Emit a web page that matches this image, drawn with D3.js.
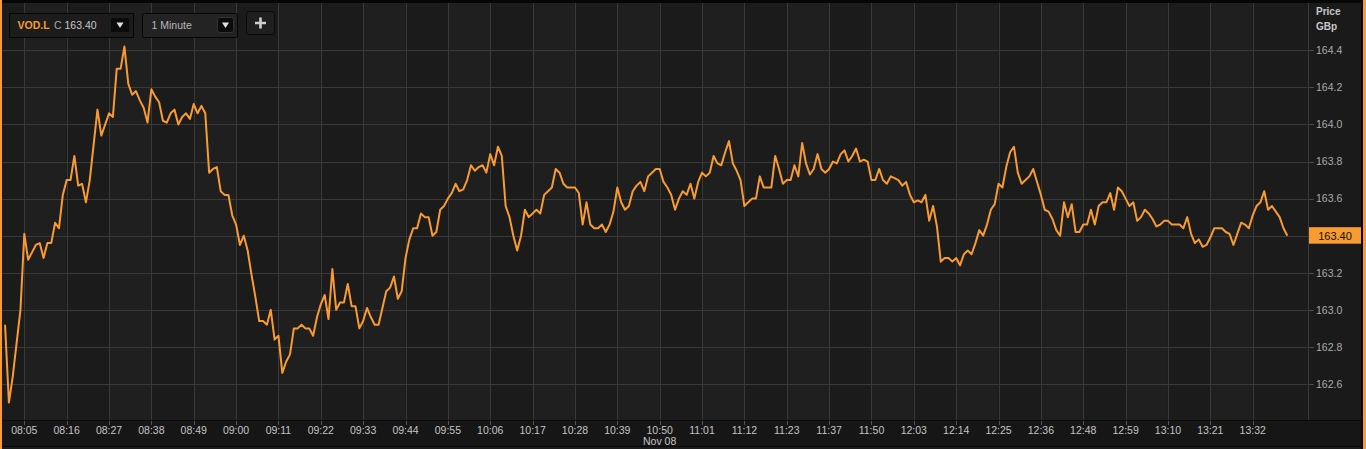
<!DOCTYPE html>
<html>
<head>
<meta charset="utf-8">
<script src="https://cdn.jsdelivr.net/npm/d3@7"></script>
<style>
  html,body{margin:0;padding:0;background:#1c1c1c;}
  svg{display:block;}
  text{font-family:"Liberation Sans",Arial,sans-serif;}
</style>
</head>
<body>
<svg id="chart" width="1366" height="449"></svg>
<script>
// ---------- data ----------
const symbol = "VOD.L";
const interval = "1 Minute";
const dateLabel = "Nov 08";
const axisTitle = ["Price", "GBp"];
// one value per 1-minute bar, 08:00 .. 13:40 (some minutes missing)
const prices = [
162.92,162.50,162.64,162.82,163.00,163.41,163.27,163.31,163.35,163.36,
163.28,163.36,163.36,163.47,163.44,163.62,163.70,163.70,163.83,163.67,
163.68,163.58,163.70,163.89,164.08,163.94,164.00,164.06,164.04,164.30,
164.30,164.42,164.22,164.16,164.18,164.13,164.09,164.01,164.19,164.15,
164.12,164.02,164.01,164.06,164.08,164.00,164.04,164.06,164.03,164.11,
164.06,164.10,164.06,163.74,163.76,163.77,163.64,163.62,163.62,163.51,
163.46,163.35,163.40,163.32,163.19,163.07,162.94,162.94,162.92,163.00,
162.84,162.86,162.66,162.72,162.76,162.90,162.90,162.92,162.90,162.90,
162.86,162.96,163.03,163.08,162.95,163.22,163.00,163.04,163.04,163.14,
163.02,163.02,162.90,162.94,163.01,162.96,162.92,162.92,163.01,163.10,
163.12,163.18,163.06,163.10,163.28,163.38,163.44,163.44,163.52,163.50,
163.50,163.40,163.42,163.54,163.56,163.60,163.63,163.68,163.64,163.65,
163.70,163.78,163.75,163.77,163.78,163.74,163.84,163.78,163.88,163.83,
163.56,163.50,163.40,163.32,163.40,163.54,163.50,163.52,163.54,163.52,
163.62,163.64,163.66,163.76,163.74,163.68,163.66,163.66,163.66,163.63,
163.46,163.58,163.46,163.44,163.44,163.46,163.42,163.46,163.53,163.66,
163.58,163.54,163.56,163.64,163.67,163.69,163.64,163.72,163.74,163.76,
163.76,163.69,163.66,163.62,163.54,163.60,163.64,163.62,163.68,163.60,
163.69,163.74,163.72,163.74,163.83,163.79,163.78,163.85,163.91,163.79,
163.75,163.70,163.56,163.58,163.60,163.60,163.72,163.66,163.66,163.66,
163.83,163.76,163.68,163.70,163.70,163.78,163.72,163.90,163.79,163.73,
163.76,163.84,163.76,163.74,163.76,163.80,163.79,163.84,163.86,163.80,
163.83,163.87,163.80,163.81,163.80,163.70,163.70,163.76,163.70,163.68,
163.72,163.71,163.70,163.67,163.69,163.62,163.58,163.59,163.58,163.62,
163.48,163.56,163.45,163.26,163.28,163.28,163.26,163.28,163.24,163.30,
163.32,163.30,163.36,163.43,163.40,163.46,163.54,163.57,163.68,163.66,
163.77,163.85,163.88,163.74,163.68,163.70,163.72,163.76,163.69,163.62,
163.54,163.53,163.49,163.43,163.40,163.58,163.50,163.57,163.42,163.42,
163.46,163.46,163.54,163.46,163.56,163.58,163.58,163.63,163.54,163.66,
163.64,163.60,163.56,163.58,163.48,163.50,163.54,163.52,163.49,163.45,
163.46,163.48,163.48,163.46,163.46,163.46,163.44,163.50,163.41,163.36,
163.38,163.34,163.35,163.39,163.44,163.44,163.44,163.42,163.41,163.35,
163.41,163.47,163.46,163.44,163.51,163.56,163.58,163.64,163.54,163.56,
163.53,163.50,163.44,163.40
];
// x tick labels: one every 11 bars, first at bar 5
const xTickLabels = ["08:05","08:16","08:27","08:38","08:49","09:00","09:11","09:22","09:33","09:44",
  "09:55","10:06","10:17","10:28","10:39","10:50","11:01","11:12","11:23","11:37",
  "11:50","12:03","12:14","12:25","12:36","12:48","12:59","13:10","13:21","13:32"];
const xTickStart = 5, xTickStep = 11;
const dateUnderTick = "10:50";
const yTicks = [162.6,162.8,163.0,163.2,163.4,163.6,163.8,164.0,164.2,164.4];

// ---------- layout ----------
const W = 1366, H = 449;
const plotL = 2, plotR = 1308, plotT = 3, plotB = 421;
const orange = "#f89b33";

const svg = d3.select("#chart");
const x = d3.scaleLinear().domain([xTickStart, xTickStart + xTickStep*(xTickLabels.length-1)]).range([24.3, 1252.7]);
const y = d3.scaleLinear().domain([162.6, 164.4]).range([384, 50.3]);
const tickIdx = xTickLabels.map((d,i) => xTickStart + i*xTickStep);
const last = prices[prices.length-1];

// background
svg.append("rect").attr("x",0).attr("y",0).attr("width",W).attr("height",H).attr("fill","#1c1c1c");

// alternating vertical bands
const bandEdges = [plotL, ...tickIdx.map(i => x(i)), plotR];
for (let k = 0; k < bandEdges.length-1; k++) {
  svg.append("rect").attr("x",bandEdges[k]).attr("y",plotT)
    .attr("width",bandEdges[k+1]-bandEdges[k]).attr("height",plotB-plotT)
    .attr("fill", k % 2 === 0 ? "#1b1b1b" : "#1f1f1f");
}
// right axis column
svg.append("rect").attr("x",plotR).attr("y",plotT).attr("width",1363-plotR).attr("height",plotB-plotT).attr("fill","#1a1a1a");

// grid
const grid = svg.append("g").attr("stroke","#393939").attr("stroke-width",1);
yTicks.forEach(v => {
  grid.append("line").attr("x1",plotL).attr("x2",plotR)
    .attr("y1",Math.round(y(v))+0.5).attr("y2",Math.round(y(v))+0.5);
  grid.append("line").attr("x1",plotR+1).attr("x2",plotR+6)
    .attr("y1",Math.round(y(v))+0.5).attr("y2",Math.round(y(v))+0.5).attr("stroke","#4a4a4a");
});
tickIdx.forEach(i => {
  grid.append("line").attr("x1",Math.round(x(i))+0.5).attr("x2",Math.round(x(i))+0.5)
    .attr("y1",plotT).attr("y2",plotB);
});
// right axis separator
svg.append("line").attr("x1",plotR+0.5).attr("x2",plotR+0.5).attr("y1",plotT).attr("y2",plotB)
  .attr("stroke","#3a3a3a");

// price line
const line = d3.line().x((d,i) => x(i)).y(d => y(d));
svg.append("path").datum(prices).attr("d",line).attr("fill","none")
  .attr("stroke",orange).attr("stroke-width",2).attr("stroke-linejoin","round");

// y labels (the one hidden under the last-price marker is not drawn)
const yl = svg.append("g").attr("font-size","10.5px").attr("fill","#ababab");
yTicks.filter(v => Math.abs(y(v) - y(last)) > 10).forEach(v => {
  yl.append("text").attr("x",1316).attr("y",y(v)).attr("dy","0.36em").text(v.toFixed(1));
});
svg.append("text").attr("x",1316).attr("y",15).attr("font-size","10px").attr("font-weight","bold")
  .attr("fill","#c8c8c8").text(axisTitle[0]);
svg.append("text").attr("x",1316).attr("y",29.5).attr("font-size","10px").attr("font-weight","bold")
  .attr("fill","#c8c8c8").text(axisTitle[1]);

// last price marker
svg.append("rect").attr("x",plotR+1).attr("y",y(last)-8.5).attr("width",1361.5-plotR-1).attr("height",16.5).attr("fill",orange);
svg.append("text").attr("x",1335).attr("y",y(last)).attr("dy","0.36em").attr("text-anchor","middle")
  .attr("font-size","11px").attr("fill","#111").text(last.toFixed(2));

// bottom axis band
svg.append("rect").attr("x",0).attr("y",plotB).attr("width",1363).attr("height",447-plotB).attr("fill","#161616");
svg.append("line").attr("x1",0).attr("x2",1363).attr("y1",plotB-0.5).attr("y2",plotB-0.5).attr("stroke","#0a0a0a");
svg.append("line").attr("x1",0).attr("x2",1363).attr("y1",446.5).attr("y2",446.5).attr("stroke","#0a0a0a");
const xl = svg.append("g");
tickIdx.forEach((i,k) => {
  const px = Math.round(x(i))+0.5;
  xl.append("line").attr("x1",px).attr("x2",px).attr("y1",plotB).attr("y2",plotB+4).attr("stroke","#555");
  xl.append("text").attr("x",x(i)).attr("y",434).attr("text-anchor","middle")
    .attr("font-size","10.5px").attr("fill","#c4c4c4").text(xTickLabels[k]);
});
const di = tickIdx[xTickLabels.indexOf(dateUnderTick)];
svg.append("text").attr("x",x(di)).attr("y",445).attr("text-anchor","middle")
  .attr("font-size","10.5px").attr("fill","#c4c4c4").text(dateLabel);

// top strip & orange borders
svg.append("rect").attr("x",0).attr("y",0).attr("width",W).attr("height",3).attr("fill","#060606");
svg.append("rect").attr("x",1361).attr("y",0).attr("width",2).attr("height",H).attr("fill","#0a0a0a");
svg.append("rect").attr("x",0).attr("y",0).attr("width",2).attr("height",H).attr("fill",orange);
svg.append("rect").attr("x",1363).attr("y",0).attr("width",3).attr("height",H).attr("fill",orange);

// controls
const c = svg.append("g");
c.append("rect").attr("x",9.5).attr("y",13.5).attr("width",124).attr("height",24)
  .attr("fill","#1c1c1c").attr("stroke","#050505");
c.append("text").attr("x",17.5).attr("y",29).attr("font-size","10.5px").attr("font-weight","bold")
  .attr("fill",orange).text(symbol);
c.append("text").attr("x",54).attr("y",29).attr("font-size","10.5px").attr("fill","#a8a8a8")
  .text("C ").append("tspan").attr("fill","#c8c8c8").text(last.toFixed(2));
c.append("rect").attr("x",111).attr("y",18).attr("width",18).attr("height",14).attr("fill","#0b0b0b");
c.append("path").attr("d","M116.5,22.5 L123.5,22.5 L120,28 Z").attr("fill","#e0e0e0");

c.append("rect").attr("x",142.5).attr("y",13.5).attr("width",95).attr("height",24).attr("rx",2)
  .attr("fill","#232323").attr("stroke","#050505");
c.append("text").attr("x",151.5).attr("y",29).attr("font-size","10.5px").attr("fill","#b8b8b8").text(interval);
c.append("rect").attr("x",217.5).attr("y",17.5).attr("width",16).attr("height",15).attr("rx",2)
  .attr("fill","#0b0b0b").attr("stroke","#333");
c.append("path").attr("d","M222,22.5 L229,22.5 L225.5,28 Z").attr("fill","#e0e0e0");

c.append("rect").attr("x",246.5).attr("y",11.5).attr("width",28).attr("height",23).attr("rx",3)
  .attr("fill","#1f1f1f").attr("stroke","#080808");
c.append("path").attr("d","M255,23 L266,23 M260.5,17.5 L260.5,28.5").attr("stroke","#cfcfcf").attr("stroke-width",2.6);
</script>
</body>
</html>
